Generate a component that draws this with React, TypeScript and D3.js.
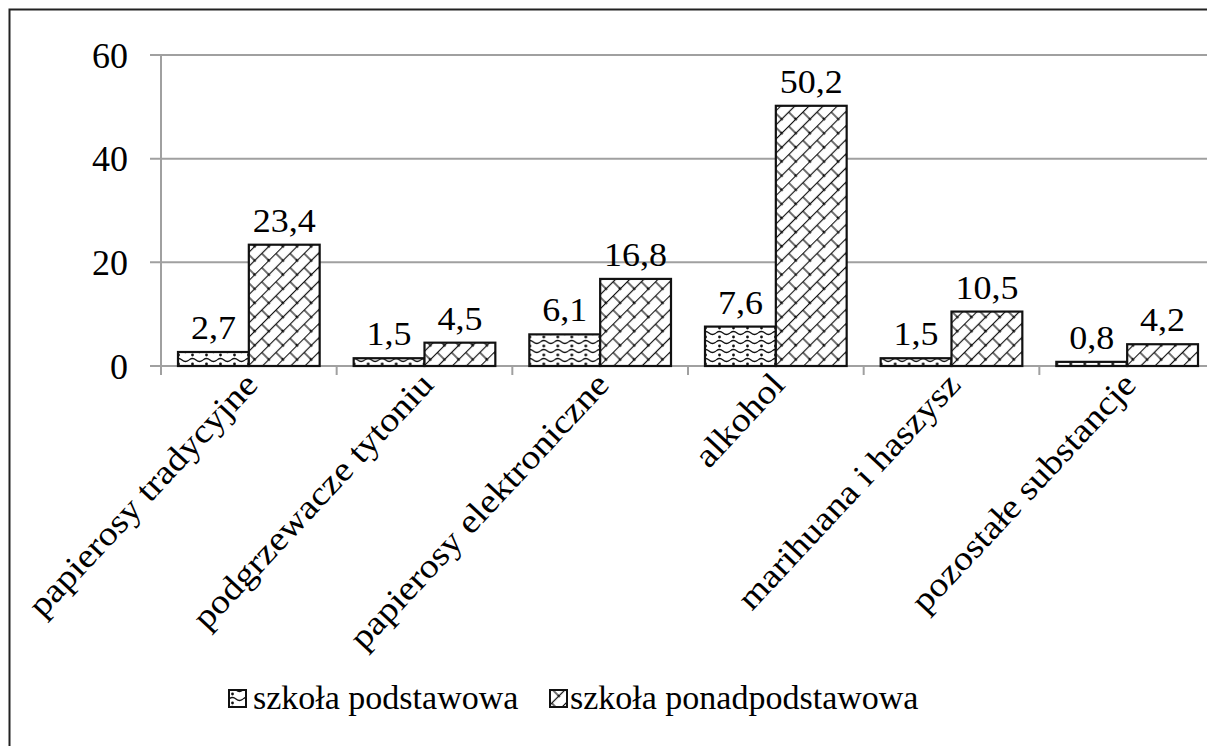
import React from 'react';
import * as d3 from 'd3';

// categories and series (percent)
const categories = [
  'papierosy tradycyjne',
  'podgrzewacze tytoniu',
  'papierosy elektroniczne',
  'alkohol',
  'marihuana i haszysz',
  'pozostałe substancje',
];
const seriesNames = ['szkoła podstawowa', 'szkoła ponadpodstawowa'];
const primary = [2.7, 1.5, 6.1, 7.6, 1.5, 0.8];
const secondary = [23.4, 4.5, 16.8, 50.2, 10.5, 4.2];
const yTicks = [0, 20, 40, 60];

const W = 1207;
const H = 746;
const SERIF = 'Liberation Serif';
const SX = 1.06; // the reference text is a touch wider than plain Times

export default function App() {
  const x0 = d3.scaleBand<string>().domain(categories).range([161, 1215]).paddingInner(0).paddingOuter(0);
  const x1 = d3.scaleBand<string>().domain(['0', '1']).range([0, x0.bandwidth()]).paddingInner(0).paddingOuter(0.24);
  const y = d3.scaleLinear().domain([0, 60]).range([366, 55]);
  const series = [primary, secondary];
  const fmt = (v: number) => d3.format('.1f')(v).replace('.', ',');

  return (
    <svg width={W} height={H} fontFamily={SERIF} style={{ position: 'absolute', left: 0, top: 0, fontFamily: SERIF }}>
      <defs>
        {/* wavy pattern with dots */}
        <pattern id="wave" patternUnits="userSpaceOnUse" width="14" height="9" y="366">
          <rect width="14" height="9" fill="#fff" />
          <path d="M0 3 Q3.5 0 7 3 T14 3" fill="none" stroke="#111" strokeWidth="1.3" />
          <circle cx="3.5" cy="7" r="1.4" fill="#111" />
        </pattern>
        {/* diagonal brick pattern */}
        <pattern id="brick" patternUnits="userSpaceOnUse" width="20" height="20" patternTransform="rotate(-45)">
          <rect width="20" height="20" fill="#fff" />
          <line x1="0" y1="0.5" x2="20" y2="0.5" stroke="#111" strokeWidth="1.2" />
          <line x1="0" y1="10.5" x2="20" y2="10.5" stroke="#111" strokeWidth="1.2" />
          <line x1="2" y1="0" x2="2" y2="10" stroke="#111" strokeWidth="1.2" />
          <line x1="12" y1="10" x2="12" y2="20" stroke="#111" strokeWidth="1.2" />
          <circle cx="2" cy="10.5" r="1.3" fill="#111" />
          <circle cx="12" cy="0.5" r="1.3" fill="#111" />
          <circle cx="12" cy="20" r="1.3" fill="#111" />
        </pattern>
      </defs>

      <rect width={W} height={H} fill="#fff" />
      {/* chart frame */}
      <rect x={9.5} y={9.5} width={1240} height={760} fill="none" stroke="#222" strokeWidth={2} />

      {/* gridlines */}
      {yTicks.map((t) => (
        <g key={t}>
          <line x1={150} x2={1215} y1={y(t)} y2={y(t)} stroke="#a0a0a0" strokeWidth={2} />
          <text x={128} y={y(t)} dy="0.35em" textAnchor="end" fontSize={36} fontFamily={SERIF} style={{ fontFamily: SERIF }}>
            {t}
          </text>
        </g>
      ))}
      <line x1={161} x2={161} y1={y(60)} y2={y(0) + 9} stroke="#a0a0a0" strokeWidth={2} />
      {categories.map((c) => (
        <line key={c} x1={(x0(c) ?? 0) + x0.bandwidth()} x2={(x0(c) ?? 0) + x0.bandwidth()} y1={y(0)} y2={y(0) + 9} stroke="#a0a0a0" strokeWidth={2} />
      ))}

      {/* bars */}
      {categories.map((c, i) => (
        <g key={c} transform={`translate(${x0(c)},0)`}>
          {series.map((s, j) => {
            const bx = x1(String(j)) ?? 0;
            const bw = x1.bandwidth();
            return (
              <g key={j}>
                <rect x={bx} y={y(s[i])} width={bw} height={y(0) - y(s[i])} fill={j === 0 ? 'url(#wave)' : 'url(#brick)'} stroke="#111" strokeWidth={2.2} />
                <text transform={`translate(${bx + bw / 2},${y(s[i]) - 13}) scale(${SX},1)`} textAnchor="middle" fontSize={34} fontFamily={SERIF} style={{ fontFamily: SERIF }}>
                  {fmt(s[i])}
                </text>
              </g>
            );
          })}
        </g>
      ))}

      {/* category labels */}
      {categories.map((c) => {
        const cx = (x0(c) ?? 0) + x0.bandwidth() / 2;
        return (
          <text key={c} transform={`translate(${cx + 2},${y(0) + 12}) rotate(-47) scale(1.12,1)`} textAnchor="end" dy="0.35em" fontSize={34} fontFamily={SERIF} style={{ fontFamily: SERIF }}>
            {c}
          </text>
        );
      })}

      {/* legend */}
      {seriesNames.map((n, j) => {
        const lx = j === 0 ? 229 : 550;
        return (
          <g key={n} transform={`translate(${lx},690)`}>
            <rect x={0} y={0} width={17} height={17} fill={j === 0 ? 'url(#wave)' : 'url(#brick)'} stroke="#111" strokeWidth={2} />
            <text x={j === 0 ? 24 : 20} y={19} fontSize={34} fontFamily={SERIF} style={{ fontFamily: SERIF }}>
              {n}
            </text>
          </g>
        );
      })}
    </svg>
  );
}
